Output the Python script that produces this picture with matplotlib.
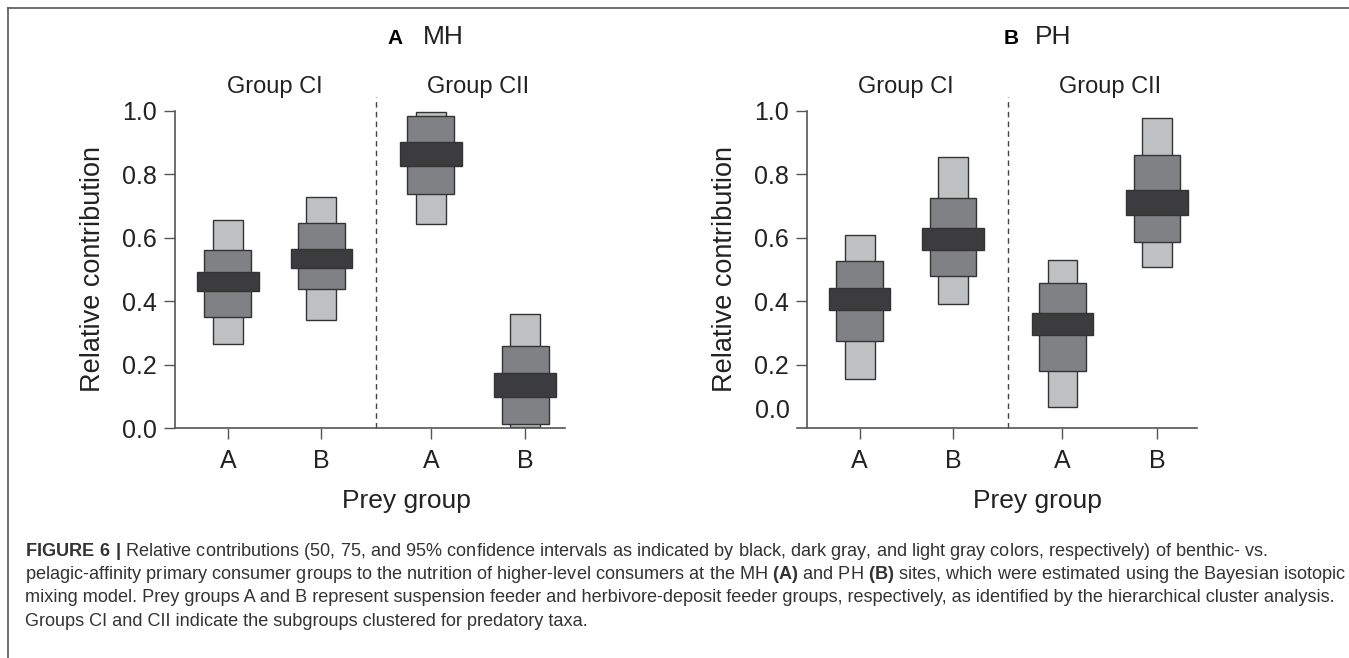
import numpy as np
import matplotlib
matplotlib.use("Agg")
import matplotlib.pyplot as plt
from matplotlib.lines import Line2D

plt.rcParams['font.family'] = ['Liberation Sans', 'DejaVu Sans']
plt.rcParams['mathtext.fontset'] = 'custom'
plt.rcParams['mathtext.rm'] = 'Liberation Sans'
plt.rcParams['mathtext.bf'] = 'Liberation Sans:bold'

# Data
prey = ['A', 'B', 'A', 'B']
groups = ['Group CI', 'Group CII']
xpos = np.array([0, 1, 2.17, 3.18])

# MH site: 95, 75 and 50% intervals (lower, upper)
mh_ci95_lo = [0.266, 0.340, 0.642, 0.002]
mh_ci95_hi = [0.656, 0.729, 0.997, 0.359]
mh_ci75_lo = [0.351, 0.439, 0.739, 0.012]
mh_ci75_hi = [0.561, 0.647, 0.984, 0.258]
mh_ci50_lo = [0.433, 0.505, 0.825, 0.098]
mh_ci50_hi = [0.492, 0.564, 0.903, 0.172]

# PH site
ph_ci95_lo = [0.155, 0.392, 0.067, 0.508]
ph_ci95_hi = [0.609, 0.854, 0.529, 0.977]
ph_ci75_lo = [0.273, 0.480, 0.181, 0.588]
ph_ci75_hi = [0.526, 0.726, 0.457, 0.860]
ph_ci50_lo = [0.371, 0.560, 0.294, 0.673]
ph_ci50_hi = [0.441, 0.630, 0.364, 0.750]

W, H = 1349, 658
fig = plt.figure(figsize=(W / 100, H / 100), dpi=100)

txt = '#222222'
colors = ['#bfc0c2', '#808184', '#3c3c3e']
widths = [0.32, 0.5, 0.66]


def panel(left_px, data, letter, site, letter_dx, site_dx, zero_raised=False):
    ax = fig.add_axes([left_px / W, (H - 428) / H, 390 / W, 317 / H])
    for (lo, hi), c, w in zip(data, colors, widths):
        lo = np.array(lo)
        hi = np.array(hi)
        ax.bar(xpos, hi - lo, bottom=lo, width=w, color=c,
               edgecolor='#333333', linewidth=1.0, zorder=2)
    ax.plot([1.585, 1.585], [0, 1.045], ls=(0, (4, 3)), color='#444444',
            lw=1.0, clip_on=False)
    ax.set_xlim(-0.565, 3.605)
    ax.set_ylim(0, 1.0)
    ax.set_xticks(xpos)
    ax.set_xticklabels(prey)
    if zero_raised:
        ax.set_yticks([0.2, 0.4, 0.6, 0.8, 1.0])
        ax.set_yticklabels(['0.2', '0.4', '0.6', '0.8', '1.0'])
        ax.text(-0.043, 0.055, '0.0', transform=ax.transAxes, ha='right',
                va='center', fontsize=18, color=txt)
        ax.spines['bottom'].set_bounds(-0.67, 3.605)
    else:
        ax.set_yticks([0, 0.2, 0.4, 0.6, 0.8, 1.0])
        ax.set_yticklabels(['0.0', '0.2', '0.4', '0.6', '0.8', '1.0'])
    for s in ['top', 'right']:
        ax.spines[s].set_visible(False)
    for s in ['left', 'bottom']:
        ax.spines[s].set_color('#555555')
        ax.spines[s].set_linewidth(1.2)
    ax.tick_params(axis='both', length=8, width=1.0, color='#555555',
                   labelsize=18, labelcolor=txt)
    ax.tick_params(axis='y', pad=5)
    ax.tick_params(axis='x', pad=7)
    ax.text(-0.21, 0.5, 'Relative contribution', transform=ax.transAxes,
            rotation=90, ha='center', va='center', fontsize=19.5, color=txt)
    ax.text(0.5, 1.076, groups[0], ha='center', va='center', fontsize=17,
            color=txt, clip_on=False)
    ax.text(2.675, 1.076, groups[1], ha='center', va='center', fontsize=17,
            color=txt, clip_on=False)
    # panel letter and site
    fig.text((left_px + letter_dx) / W, 1 - 38 / H, letter, ha='center',
             va='center', fontsize=15, fontweight='bold', color='black')
    fig.text((left_px + site_dx) / W, 1 - 37 / H, site, ha='left',
             va='center', fontsize=19, color=txt)
    fig.text((left_px + 231) / W, 1 - 501 / H, 'Prey group', ha='center',
             va='center', fontsize=19, color=txt)
    return ax


panel(175, [(mh_ci95_lo, mh_ci95_hi), (mh_ci75_lo, mh_ci75_hi),
            (mh_ci50_lo, mh_ci50_hi)], 'A', 'MH', 220, 248)
panel(806.7, [(ph_ci95_lo, ph_ci95_hi), (ph_ci75_lo, ph_ci75_hi),
              (ph_ci50_lo, ph_ci50_hi)], 'B', 'PH', 204, 228,
      zero_raised=True)

# frame (top and left edges)
fig.add_artist(Line2D([8 / W, 1], [1 - 8 / H, 1 - 8 / H], color='#555555',
                      lw=1.2, transform=fig.transFigure))
fig.add_artist(Line2D([8 / W, 8 / W], [0, 1 - 8 / H], color='#555555',
                      lw=1.2, transform=fig.transFigure))

# caption
caption = [
    r'$\bf{FIGURE\ 6\ |}$ Relative contributions (50, 75, and 95% confidence '
    r'intervals as indicated by black, dark gray, and light gray colors, '
    r'respectively) of benthic- vs.',
    r'pelagic-affinity primary consumer groups to the nutrition of '
    r'higher-level consumers at the MH $\bf{(A)}$ and PH $\bf{(B)}$ sites, '
    r'which were estimated using the Bayesian isotopic',
    'mixing model. Prey groups A and B represent suspension feeder and '
    'herbivore-deposit feeder groups, respectively, as identified by the '
    'hierarchical cluster analysis.',
    'Groups CI and CII indicate the subgroups clustered for predatory taxa.',
]
renderer = fig.canvas.get_renderer()
probe = fig.text(0, 0, caption[1], fontsize=12)
wpx = probe.get_window_extent(renderer).width
probe.remove()
cap_size = 12 * 1316 / wpx
for i, line in enumerate(caption):
    fig.text(25 / W, 1 - (551 + 23.5 * i) / H, line, ha='left', va='center',
             fontsize=cap_size, color='#333333')

fig.savefig('out.png', dpi=100)
